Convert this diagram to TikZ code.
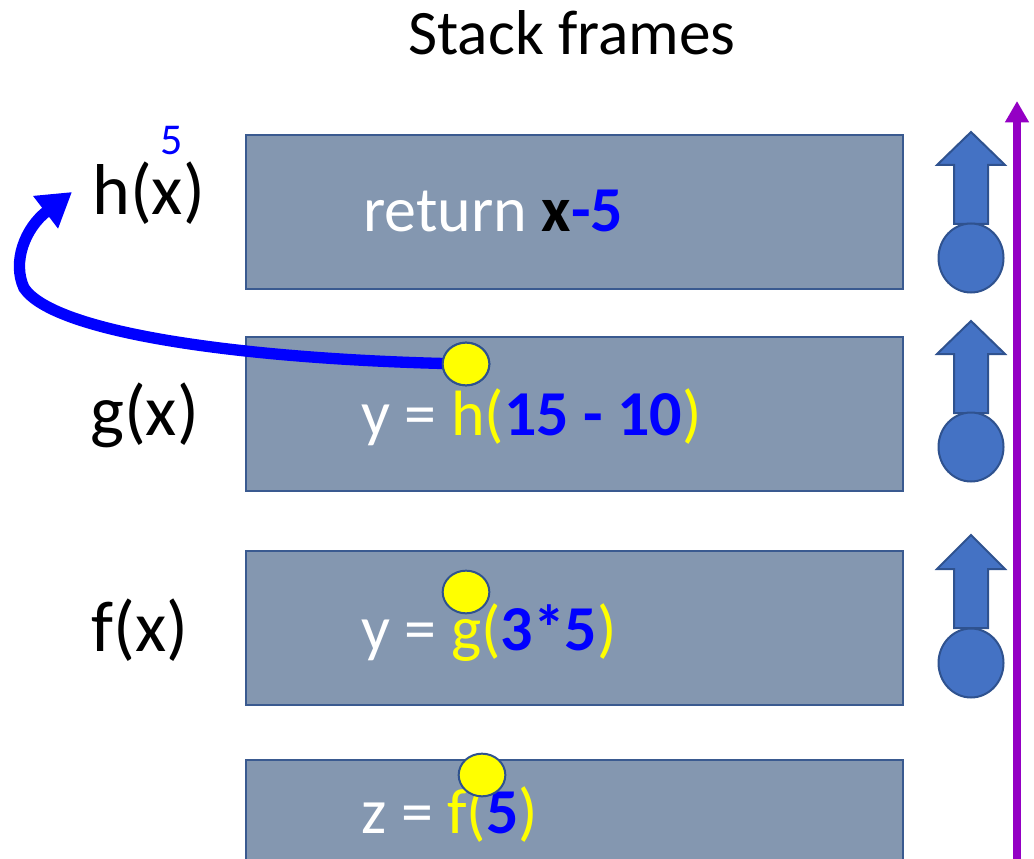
\documentclass[tikz,border=0pt]{standalone}
\usepackage{fontspec}
\setmainfont{Carlito}
\usetikzlibrary{arrows.meta,shapes.geometric}
\definecolor{boxfill}{HTML}{8497B0}
\definecolor{boxline}{HTML}{3A5A90}
\definecolor{blk}{HTML}{4472C4}
\definecolor{blkline}{HTML}{2F528F}
\definecolor{ylw}{HTML}{FFFF00}
\definecolor{blu}{HTML}{0000FF}
\definecolor{purp}{HTML}{9400C4}
\tikzset{
  frame/.style={fill=boxfill,draw=boxline,line width=1.5pt},
  boxtext/.style={anchor=base west,inner sep=0pt,text=white,font=\fontsize{48}{57}\selectfont},
  lbl/.style={anchor=base west,inner sep=0pt,font=\fontsize{54}{64}\selectfont},
  ydot/.style={ellipse,fill=ylw,draw=blkline,line width=1.5pt,minimum width=35pt,minimum height=32pt,inner sep=0pt},
  blkshape/.style={fill=blk,draw=blkline,line width=1.5pt,line join=miter},
  callarrow/.style={draw=blu,line width=8.5pt,-{Triangle[length=25pt,width=29pt]}},
  timeline/.style={draw=purp,line width=5.5pt,-{Triangle[length=16pt,width=17pt]}}
}
\begin{document}
\begin{tikzpicture}[x=0.75pt,y=-0.75pt]
\useasboundingbox (0,0) rectangle (1034,859);
\clip (0,0) rectangle (1034,859);
% title
\node[anchor=base,inner sep=0pt,font=\fontsize{47.5}{57}\selectfont] (title) at (572,55) {Stack frames};
% frames
\draw[frame] (246,135) rectangle (903,289);
\draw[frame] (246,337) rectangle (903,491);
\draw[frame] (246,551) rectangle (903,705);
\draw[frame] (246,760) rectangle (903,880);
% labels
\node[lbl] (hx) at (92,215) {h(x)};
\node[lbl] (gx) at (90,435) {g(x)};
\node[lbl] (fx) at (91,651) {f(x)};
\node[anchor=base,inner sep=0pt,text=blu,font=\fontsize{33}{40}\selectfont] (five) at (172,155) {5};
% box texts
\node[boxtext] (t1) at (363,232) {return \textbf{\textcolor{black}{x}\textcolor{blu}{-5}}};
\node[boxtext] (t2) at (361,435) {y = \textcolor{ylw}{h(}\textbf{\textcolor{blu}{15 - 10}}\textcolor{ylw}{)}};
\node[boxtext] (t3) at (361,650) {y = \textcolor{ylw}{g(}\textbf{\textcolor{blu}{3*5}}\textcolor{ylw}{)}};
\node[boxtext] (t4) at (361,833) {z = \textcolor{ylw}{f(}\textbf{\textcolor{blu}{5}}\textcolor{ylw}{)}};
% call arrow
\coordinate (htip) at (72,192);
\coordinate (bend) at (24,288);
\node[ydot] (d1) at (466,364) {};
\draw[callarrow] (d1.center) .. controls (250,360) and (55,334) .. (bend) .. controls (12,262) and (25,228) .. (htip);
\node[ydot] (d1b) at (466,364) {};
\node[ydot] (d2) at (466,592) {};
\node[ydot] (d3) at (482,775) {};
% block arrows with circles
\foreach \tp/\bs/\sb/\cc in {132/165/224/258, 321/354/413/447, 535/569/628/663}{
  \draw[blkshape] (971,\tp) -- (1005,\bs) -- (988,\bs) -- (988,\sb) -- (954,\sb) -- (954,\bs) -- (937,\bs) -- cycle;
  \draw[blkshape] (971,\cc) ellipse [x radius=32.5, y radius=34.5];
}
% timeline
\coordinate (tl0) at (1017,870);
\coordinate (tl1) at (1017,101);
\draw[timeline] (tl0) -- (tl1);
\end{tikzpicture}
\end{document}
